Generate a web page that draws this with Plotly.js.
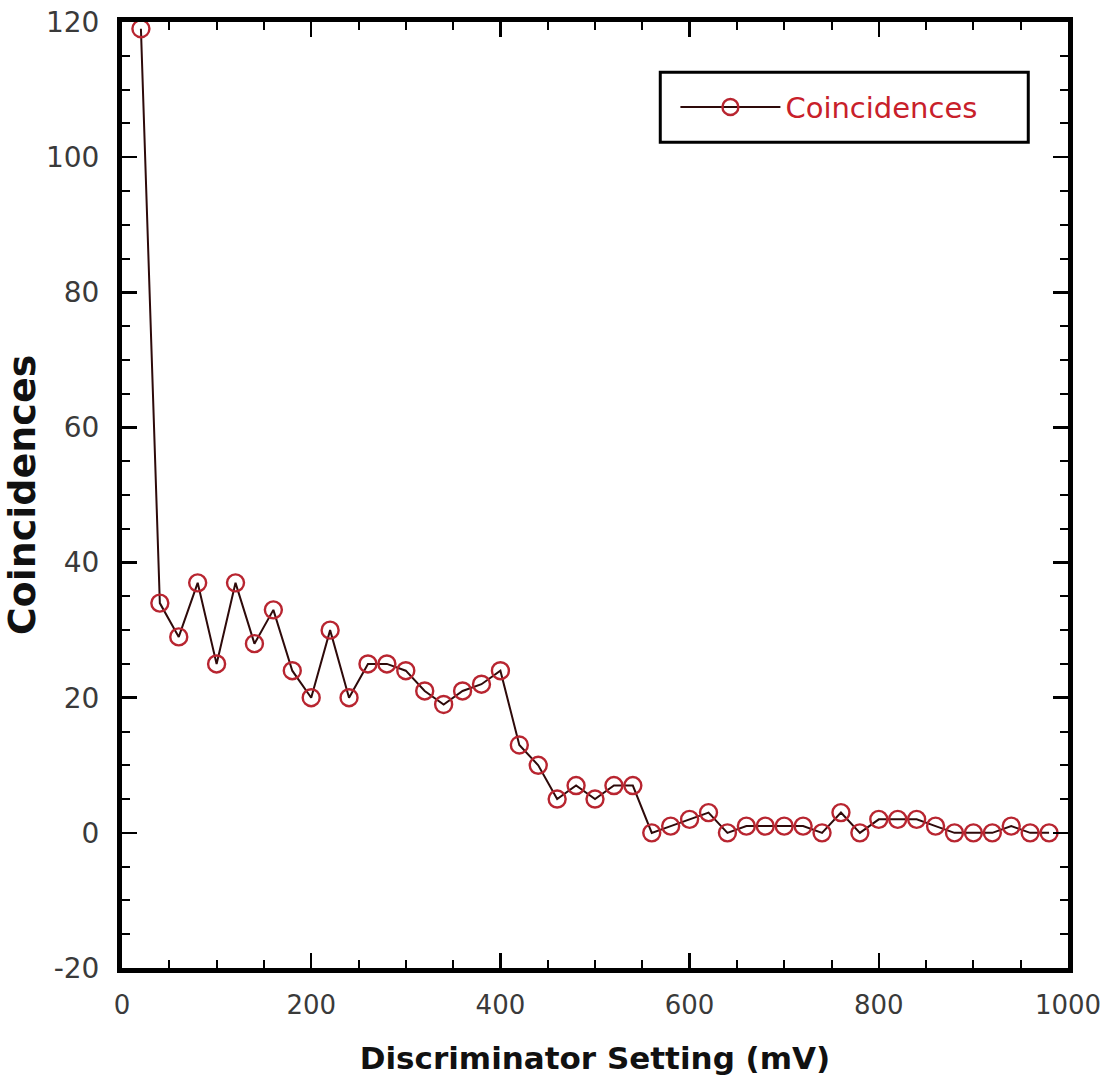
<!DOCTYPE html>
<html>
<head>
<meta charset="utf-8">
<script src="https://cdn.plot.ly/plotly-3.0.1.min.js"></script>
<style>
  html, body { margin: 0; padding: 0; background: #fff; }
  #chart { width: 1114px; height: 1083px; }
</style>
</head>
<body>
<div id="chart"></div>
<script>
// Discriminator threshold scan (mV) and coincidence counts at each setting
const discriminatorMv = [
  20, 40, 60, 80, 100, 120, 140, 160, 180, 200,
  220, 240, 260, 280, 300, 320, 340, 360, 380, 400,
  420, 440, 460, 480, 500, 520, 540, 560, 580, 600,
  620, 640, 660, 680, 700, 720, 740, 760, 780, 800,
  820, 840, 860, 880, 900, 920, 940, 960, 980
];
const coincidences = [
  119, 34, 29, 37, 25, 37, 28, 33, 24, 20,
  30, 20, 25, 25, 24, 21, 19, 21, 22, 24,
  13, 10, 5, 7, 5, 7, 7, 0, 1, 2,
  3, 0, 1, 1, 1, 1, 0, 3, 0, 2,
  2, 2, 1, 0, 0, 0, 1, 0, 0
];
const xTickValues = [0, 200, 400, 600, 800, 1000];
const xTickLabels = ['0', '200', '400', '600', '800', '1000'];
const yTickValues = [-20, 0, 20, 40, 60, 80, 100, 120];
const yTickLabels = ['-20', '0', '20', '40', '60', '80', '100', '120'];

const trace = {
  x: discriminatorMv,
  y: coincidences,
  type: 'scatter',
  mode: 'lines+markers',
  name: 'Coincidences',
  line: { color: '#2e0a0a', width: 2 },
  marker: {
    symbol: 'circle-open',
    size: 17,
    color: '#b82530',
    line: { color: '#b82530', width: 2.4 }
  },
  cliponaxis: false
};

const fontFamily = 'DejaVu Sans, Arial, sans-serif';
const xTickFont = { family: fontFamily, size: 26, color: '#3a3a3a' };
const yTickFont = { family: fontFamily, size: 28, color: '#3a3a3a' };

const layout = {
  width: 1114,
  height: 1083,
  margin: { l: 122, r: 46, t: 22, b: 115 },
  paper_bgcolor: '#fff',
  plot_bgcolor: '#fff',
  showlegend: true,
  legend: {
    x: 0.585, y: 0.910, xanchor: 'left', yanchor: 'middle',
    bgcolor: 'rgba(0,0,0,0)',
    borderwidth: 0,
    font: { family: fontFamily, size: 29, color: '#c8202a' },
    itemwidth: 100
  },
  // frame drawn around the legend entry
  shapes: [{
    type: 'rect', xref: 'paper', yref: 'paper',
    x0: 0.569, x1: 0.958, y0: 0.873, y1: 0.947,
    line: { color: '#000', width: 3 },
    fillcolor: 'rgba(0,0,0,0)',
    layer: 'above'
  }],
  xaxis: {
    range: [0, 1000],
    tickvals: xTickValues,
    ticktext: xTickLabels,
    ticks: 'inside',
    ticklen: 15,
    tickwidth: 2.5,
    tickcolor: '#000',
    ticklabelstandoff: 10,
    showline: true,
    linewidth: 5,
    linecolor: '#000',
    mirror: 'allticks',
    showgrid: false,
    zeroline: false,
    tickfont: xTickFont,
    minor: { dtick: 50, ticks: 'inside', ticklen: 8, tickwidth: 2, tickcolor: '#000', showgrid: false },
    title: {
      text: 'Discriminator Setting (mV)',
      font: { family: fontFamily, size: 31, color: '#111', weight: 'bold' },
      standoff: 30
    }
  },
  yaxis: {
    range: [-20, 120],
    tickvals: yTickValues,
    ticktext: yTickLabels,
    ticks: 'inside',
    ticklen: 15,
    tickwidth: 2.5,
    tickcolor: '#000',
    ticklabelstandoff: 12,
    showline: true,
    linewidth: 5,
    linecolor: '#000',
    mirror: 'allticks',
    showgrid: false,
    zeroline: false,
    tickfont: yTickFont,
    minor: { dtick: 5, ticks: 'inside', ticklen: 8, tickwidth: 2, tickcolor: '#000', showgrid: false },
    title: {
      text: 'Coincidences',
      font: { family: fontFamily, size: 38, color: '#111', weight: 'bold' },
      standoff: 0
    }
  }
};

Plotly.newPlot('chart', [trace], layout, { displayModeBar: false, staticPlot: true });
</script>
</body>
</html>
